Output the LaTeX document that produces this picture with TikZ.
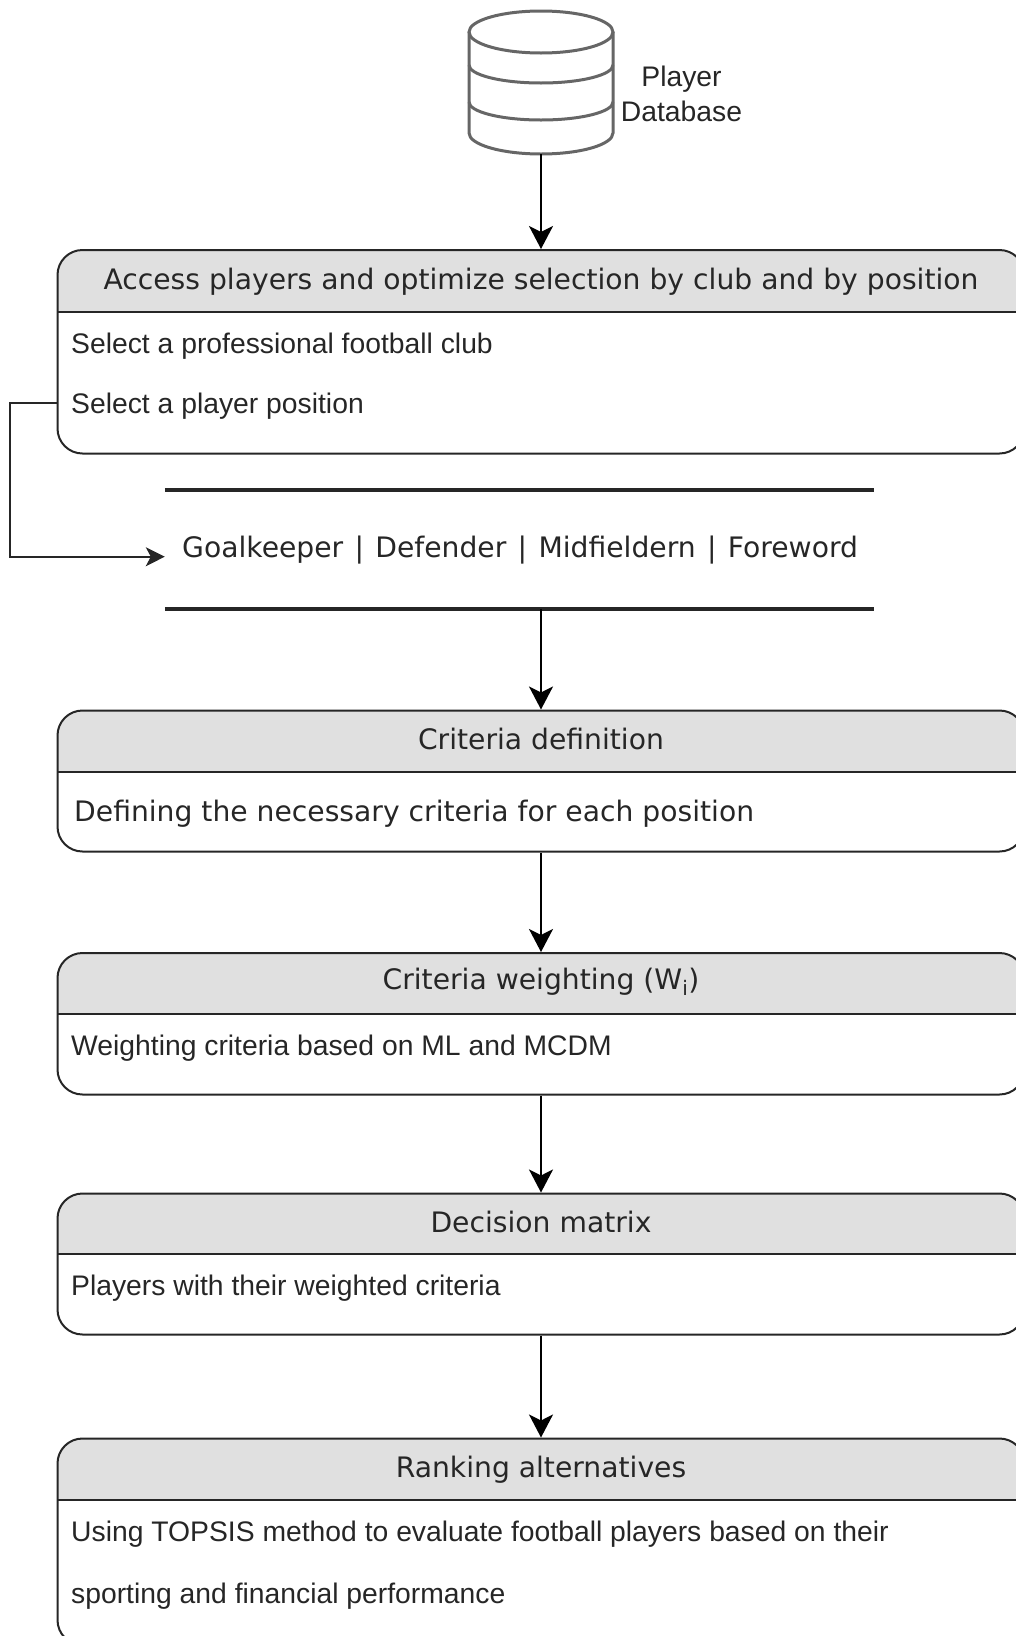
\documentclass[tikz,border=0pt]{standalone}
\usepackage{fontspec}
\setmainfont{Liberation Sans}
\newfontfamily\headfont{DejaVu Sans}
\usetikzlibrary{arrows.meta}
\definecolor{headgray}{HTML}{E0E0E0}
\definecolor{inkgray}{HTML}{262626}
\definecolor{cylgray}{HTML}{666666}
\tikzset{
    panel/.style={draw=inkgray, line width=2pt, rounded corners=25pt, minimum width=967pt, inner sep=0pt},
    titletext/.style={anchor=base, inner sep=0pt, text=inkgray, font=\headfont\fontsize{28.2}{32}\selectfont},
    bodytext/.style={anchor=base west, inner sep=0pt, text=inkgray, font=\fontsize{28.3}{32}\selectfont},
    sanstext/.style={anchor=base west, inner sep=0pt, text=inkgray, font=\headfont\fontsize{28.2}{32}\selectfont},
    flow/.style={->, line width=2.2pt, draw=black},
    thinflow/.style={-{Stealth[length=19pt, width=19pt, inset=5pt]}, line width=1.8pt, draw=inkgray},
    cylline/.style={draw=cylgray, line width=3pt},
    barline/.style={draw=inkgray, line width=3.6pt}
}
\begin{document}
\begin{tikzpicture}[x=1pt, y=-1pt, >={Stealth[length=23pt, width=24pt, inset=6pt]}]
    \path[use as bounding box, clip] (0,0) rectangle (1016,1636);

    % the database cylinder
    \node[minimum width=144pt, minimum height=144pt, inner sep=0pt] (database) at (541,82) {};
    \draw[cylline] (541,32) ellipse [x radius=72pt, y radius=21pt];
    \draw[cylline] (469,32) -- (469,133) arc [start angle=180, end angle=360, x radius=72pt, y radius=21pt] -- (613,32);
    % the two bands of the cylinder
    \foreach \y in {65,102}
    \draw[cylline] (469,\y) arc [start angle=180, end angle=360, x radius=72pt, y radius=18pt];

    % The label beside the cylinder
    \node[align=center, inner sep=0pt, text=inkgray, font=\fontsize{28.3}{34.7}\selectfont] (dblabel) at (681.5,94) {Player\\Database};

    % the panels, each with a grey head
    \foreach \panel/\ptop/\phead/\pbot/\pbase/\ptitle in {
        access/250/311.5/453.5/289/{Access players and optimize selection by club and by position},
        criteria/710.5/771.5/851.5/749/{Criteria definition},
        weighting/953/1013.5/1094.5/989/{Criteria weighting (W\textsubscript{\fontsize{20}{20}\selectfont i})},
        matrix/1193.5/1254/1334.5/1232.5/{Decision matrix},
        ranking/1438.5/1500/1645/1477.5/{Ranking alternatives}}
    {
        \fill[headgray] (57.5,\phead) [rounded corners=25pt] -- (57.5,\ptop) -- (1024.5,\ptop) [sharp corners] -- (1024.5,\phead) -- cycle;
        \node[panel, minimum height=\pbot-\ptop] (\panel) at (541,{(\ptop+\pbot)/2}) {};
        \draw[draw=inkgray, line width=2pt] (57.5,\phead) -- (1024.5,\phead);
        \node[titletext] (\panel-title) at (541,\pbase) {\ptitle};
    }

    % The lines of text in the panels
    \node[bodytext] (clubtext) at (71,353.7) {Select a professional football club};
    \node[bodytext] (postext) at (71,413.5) {Select a player position};
    \node[sanstext] (criteriatext) at (74,821.5) {Defining the necessary criteria for each position};
    \node[bodytext] (weighttext) at (71,1055.5) {Weighting criteria based on ML and MCDM};
    \node[bodytext] (matrixtext) at (71,1295) {Players with their weighted criteria};
    \node[bodytext] (rankone) at (71,1541.7) {Using TOPSIS method to evaluate football players based on their};
    \node[bodytext] (ranktwo) at (71,1603.2) {sporting and financial performance};

    % The positions between two bars
    \node[minimum width=709pt, minimum height=118.5pt, inner sep=0pt] (positions) at (519.5,549.25) {};
    \draw[barline] (positions.north west) -- (positions.north east);
    \draw[barline] (positions.south west) -- (positions.south east);
    \node[sanstext] (postitle) at (182,557.7) {\spaceskip=11.3pt Goalkeeper | Defender | Midfieldern | Foreword};

    % Side line from the player position to the bars
    \coordinate (turn) at (10,556.7);
    \coordinate (posout) at (57.5,403);
    \draw[thinflow] (posout) -- (posout -| turn) -- (turn) -- (turn -| positions.west);

    % Arrows down the middle
    \draw[flow] (database.south) -- (access.north);
    \draw[flow] (criteria.north |- positions.south) -- (criteria.north);
    \draw[flow] (criteria.south) -- (weighting.north);
    \draw[flow] (weighting.south) -- (matrix.north);
    \draw[flow] (matrix.south) -- (ranking.north);
\end{tikzpicture}
\end{document}
